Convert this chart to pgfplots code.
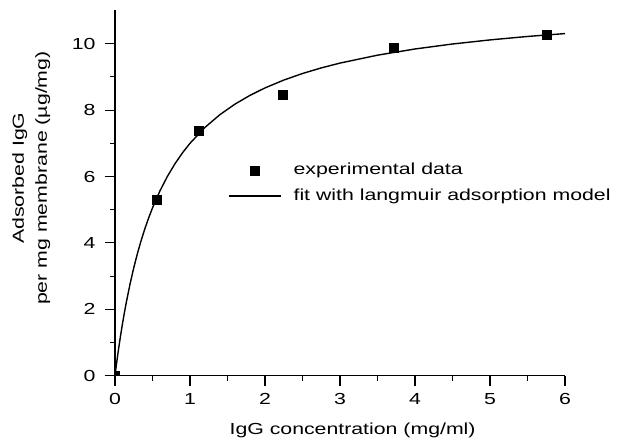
\documentclass[border=0pt]{standalone}
\usepackage{fontspec}
\setmainfont{Liberation Sans}[FakeStretch=1.33]
\usepackage{pgfplots}
\pgfplotsset{compat=1.18}
\pgfplotsset{
  fitleg/.style={legend image code/.code={\draw[##1] (0bp,0bp) -- (52bp,0bp);}},
  dataleg/.style={legend image code/.code={\draw[##1] plot coordinates {(26bp,0bp)};}},
}
\begin{document}
\begin{tikzpicture}[font=\fontsize{16bp}{19bp}\selectfont]
\useasboundingbox (-115bp,-67.3bp) rectangle (504bp,375.7bp);
\begin{axis}[
  at={(0,0)}, anchor=south west,
  scale only axis, width=450bp, height=365.2bp,
  xmin=0, xmax=6, ymin=0, ymax=11,
  axis lines=left,
  axis line style={-, line width=1.3bp, black},
  tick align=outside,
  xtick={0,1,...,6}, minor xtick={0.5,1.5,...,5.5},
  ytick={0,2,...,10}, minor ytick={1,3,...,9},
  major tick length=10bp, minor tick length=5bp,
  every tick/.style={black, line width=1.1bp},
  xticklabel style={yshift=-4bp},
  yticklabel style={xshift=-6bp},
  /pgf/number format/assume math mode=true,
  clip marker paths=true,
  xlabel={IgG concentration (mg/ml)},
  ylabel={Adsorbed IgG\\per mg membrane (µg/mg)},
  xlabel style={at={(axis description cs:0.528,-0.149)}, anchor=center},
  ylabel style={at={(axis description cs:-0.186,0.541)}, anchor=center, align=center, font=\fontsize{16bp}{23bp}\selectfont},
  legend cell align=left,
  reverse legend,
  legend style={draw=none, fill=none, at={(0.2511,0.582)}, anchor=north west,
    inner sep=0pt, column sep=12bp, row sep=11bp,
    nodes={inner sep=0pt, text height=11.5bp, text depth=3bp}},
]
\addplot[black, line width=1.4bp, fitleg]
  coordinates {
  (0,0) (0.005,0.090) (0.01,0.179) (0.02,0.352) (0.035,0.603) (0.05,0.842)
  (0.075,1.218) (0.1,1.568) (0.125,1.895) (0.15,2.200) (0.2,2.756)
  (0.25,3.249) (0.3,3.688) (0.35,4.082) (0.4,4.438) (0.45,4.760)
  (0.5,5.054) (0.6,5.570) (0.7,6.009) (0.8,6.385) (0.9,6.713)
  (1.0,7.000) (1.2,7.480) (1.4,7.865) (1.6,8.181) (1.8,8.444)
  (2.0,8.668) (2.25,8.904) (2.5,9.102) (2.75,9.271) (3.0,9.416)
  (3.5,9.654) (4.0,9.841) (4.5,9.991) (5.0,10.114) (5.5,10.218) (6.0,10.305)
  };
\addlegendentry{fit with langmuir adsorption model}
\addplot[only marks, mark=square*, mark size=4.5bp, black, dataleg]
  coordinates {
  (0,0) (0.556,5.31) (1.12,7.37) (2.24,8.46) (3.72,9.88) (5.76,10.28)
  };
\addlegendentry{experimental data}
\end{axis}
\end{tikzpicture}
\end{document}
